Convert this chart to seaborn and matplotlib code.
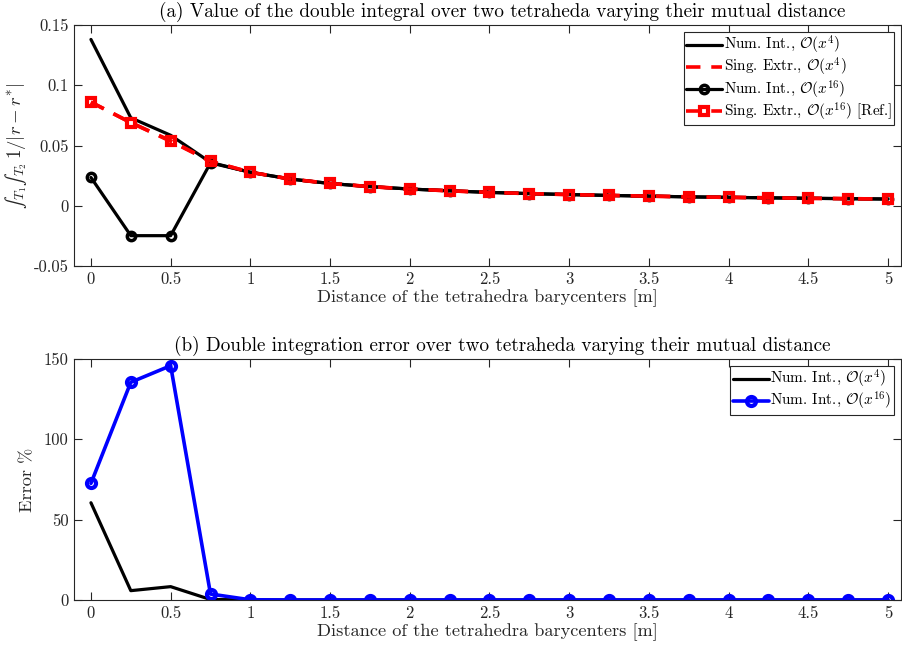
import numpy as np
import pandas as pd
import matplotlib
matplotlib.use("Agg")
import matplotlib.pyplot as plt
import seaborn as sns

# Barycenter distances [m]
distance = [0.0, 0.25, 0.5, 0.75, 1.0, 1.25, 1.5, 1.75, 2.0, 2.25, 2.5,
            2.75, 3.0, 3.25, 3.5, 3.75, 4.0, 4.25, 4.5, 4.75, 5.0]

# (a) double integral values
num_int_o4 = [0.138, 0.073, 0.0585, 0.036, 0.0278, 0.0222, 0.0185, 0.0159,
              0.0139, 0.0124, 0.0111, 0.0101, 0.0093, 0.0086, 0.0080, 0.0074,
              0.0070, 0.0066, 0.0062, 0.0059, 0.0056]
sing_extr_o4 = [0.086, 0.069, 0.0535, 0.0368, 0.0278, 0.0222, 0.0185, 0.0159,
                0.0139, 0.0124, 0.0111, 0.0101, 0.0093, 0.0086, 0.0080, 0.0074,
                0.0070, 0.0066, 0.0062, 0.0059, 0.0056]
num_int_o16 = [0.0235, -0.0248, -0.0248, 0.0356, 0.0278, 0.0222, 0.0185, 0.0159,
               0.0139, 0.0124, 0.0111, 0.0101, 0.0093, 0.0086, 0.0080, 0.0074,
               0.0070, 0.0066, 0.0062, 0.0059, 0.0056]
sing_extr_o16 = [0.086, 0.069, 0.054, 0.037, 0.0278, 0.0222, 0.0185, 0.0159,
                 0.0139, 0.0124, 0.0111, 0.0101, 0.0093, 0.0086, 0.0080, 0.0074,
                 0.0070, 0.0066, 0.0062, 0.0059, 0.0056]

# (b) relative error [%]
err_o4 = [60.5, 5.8, 8.3, 0.3, 0.05, 0.0, 0.0, 0.0, 0.0, 0.0, 0.0,
          0.0, 0.0, 0.0, 0.0, 0.0, 0.0, 0.0, 0.0, 0.0, 0.0]
err_o16 = [72.6, 135.5, 145.8, 3.7, 0.1, 0.0, 0.0, 0.0, 0.0, 0.0, 0.0,
           0.0, 0.0, 0.0, 0.0, 0.0, 0.0, 0.0, 0.0, 0.0, 0.0]

xticks = [0, 0.5, 1, 1.5, 2, 2.5, 3, 3.5, 4, 4.5, 5]
xticklabels = ["0", "0.5", "1", "1.5", "2", "2.5", "3", "3.5", "4", "4.5", "5"]
yticks_a = [-0.05, 0, 0.05, 0.1, 0.15]
yticklabels_a = ["-0.05", "0", "0.05", "0.1", "0.15"]
yticks_b = [0, 50, 100, 150]
yticklabels_b = ["0", "50", "100", "150"]

sns.set_style("ticks")
plt.rcParams.update({
    "font.family": "cmr10",
    "mathtext.fontset": "cm",
    "axes.unicode_minus": False,
    "axes.formatter.use_mathtext": True,
    "axes.edgecolor": "#262626",
    "axes.linewidth": 0.8,
    "xtick.color": "#262626",
    "ytick.color": "#262626",
    "text.color": "black",
})

df = pd.DataFrame({
    "d": distance,
    "num4": num_int_o4, "sing4": sing_extr_o4,
    "num16": num_int_o16, "sing16": sing_extr_o16,
    "err4": err_o4, "err16": err_o16,
})

fig = plt.figure(figsize=(9.02, 6.53), dpi=100)
ax_a = fig.add_axes([0.0820, 0.5926, 0.9169, 0.3691])
ax_b = fig.add_axes([0.0820, 0.0812, 0.9169, 0.3691])

lbl4 = r"Num. Int., $\mathcal{O}(x^4)$"
lbls4 = r"Sing. Extr., $\mathcal{O}(x^4)$"
lbl16 = r"Num. Int., $\mathcal{O}(x^{16})$"
lbls16 = r"Sing. Extr., $\mathcal{O}(x^{16})$ [Ref.]"

sns.lineplot(data=df, x="d", y="num4", ax=ax_a, color="black", lw=2.3,
             label=lbl4, legend=False)
sns.lineplot(data=df, x="d", y="sing4", ax=ax_a, color="red", lw=2.6,
             linestyle=(0, (4, 3)), label=lbls4, legend=False)
sns.lineplot(data=df, x="d", y="num16", ax=ax_a, color="black", lw=2.3,
             marker="o", ms=6, mfc="none", mec="black", mew=2.5,
             label=lbl16, legend=False)
sns.lineplot(data=df, x="d", y="sing16", ax=ax_a, color="red", lw=2.6,
             linestyle=(0, (4, 3)), marker="s", ms=6, mfc="none", mec="red",
             mew=3.0, label=lbls16, legend=False)

sns.lineplot(data=df, x="d", y="err4", ax=ax_b, color="black", lw=2.3,
             label=lbl4, legend=False)
sns.lineplot(data=df, x="d", y="err16", ax=ax_b, color="blue", lw=2.6,
             marker="o", ms=6.5, mfc="none", mec="blue", mew=3.0,
             label=lbl16, legend=False)

xlim = (-0.1066, 5.082)
title_x = 0.518
for ax in (ax_a, ax_b):
    ax.set_xlim(*xlim)
    ax.set_xticks(xticks)
    ax.set_xticklabels(xticklabels)
    ax.tick_params(direction="in", length=5.5, width=0.8, top=True, right=True,
                   labelsize=12, pad=4)
    for s in ax.spines.values():
        s.set_visible(True)
    ax.set_xlabel("Distance of the tetrahedra barycenters [m]", fontsize=13.2,
                  labelpad=2)

ax_a.set_ylim(-0.05, 0.15)
ax_a.set_yticks(yticks_a)
ax_a.set_yticklabels(yticklabels_a)
ax_a.set_ylabel("$\\mathrm{\u222b}_{T_1}\\mathrm{\u222b}_{T_2}\\,1/|r-r^{*}|$",
                fontsize=13.5, labelpad=3)
ax_a.set_title("(a) Value of the double integral over two tetraheda varying their mutual distance",
               fontsize=13.8, pad=6, x=title_x)

ax_b.set_ylim(0, 150)
ax_b.set_yticks(yticks_b)
ax_b.set_yticklabels(yticklabels_b)
ax_b.set_ylabel("Error %", fontsize=13.2, labelpad=6)
ax_b.set_title("(b) Double integration error over two tetraheda varying their mutual distance",
               fontsize=13.8, pad=6, x=title_x)

leg_kw = dict(loc="upper right", fontsize=11, frameon=True, fancybox=False,
              edgecolor="#262626", framealpha=1, handlelength=2.35,
              handletextpad=0.12, borderpad=0.15, labelspacing=0.0,
              borderaxespad=0.45)
la = ax_a.legend(**leg_kw)
lb = ax_b.legend(**leg_kw)
for lg in (la, lb):
    lg.get_frame().set_linewidth(0.8)

fig.savefig("out.png", dpi=100)
